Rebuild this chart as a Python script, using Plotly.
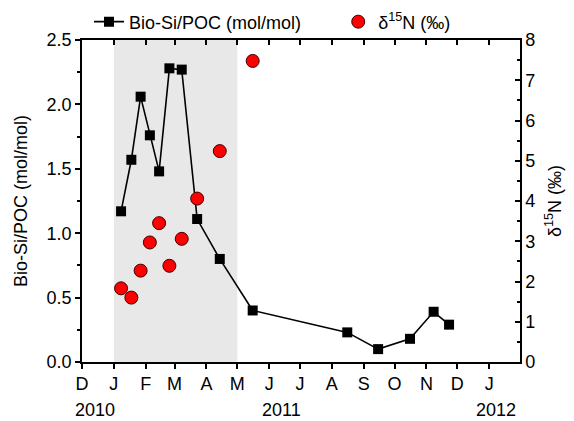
import plotly.graph_objects as go

# Data
sq_dates = ["2010-01-08", "2010-01-18", "2010-01-27", "2010-02-05", "2010-02-14",
            "2010-02-24", "2010-03-08", "2010-03-23", "2010-04-14", "2010-05-16",
            "2010-08-16", "2010-09-15", "2010-10-16", "2010-11-08", "2010-11-23"]
biosi_poc = [1.17, 1.57, 2.06, 1.76, 1.48, 2.28, 2.27, 1.11, 0.80, 0.40,
             0.23, 0.10, 0.18, 0.39, 0.29]

n_dates = ["2010-01-08", "2010-01-18", "2010-01-27", "2010-02-05", "2010-02-14",
           "2010-02-24", "2010-03-08", "2010-03-23", "2010-04-14", "2010-05-16"]
d15n = [1.83, 1.60, 2.27, 2.97, 3.45, 2.39, 3.06, 4.06, 5.24, 7.48]

month_ticks = ["2009-12-01", "2010-01-01", "2010-02-01", "2010-03-01", "2010-04-01",
               "2010-05-01", "2010-06-01", "2010-07-01", "2010-08-01", "2010-09-01",
               "2010-10-01", "2010-11-01", "2010-12-01", "2011-01-01"]
month_labels = ["D", "J", "F", "M", "A", "M", "J", "J", "A", "S", "O", "N", "D", "J"]
year_labels = ["2010", "2011", "2012"]
year_pos = ["2009-12-14", "2010-06-13", "2011-01-08"]
shade_range = ["2010-01-01", "2010-05-01"]
x_range = ["2009-12-01", "2011-01-31"]

FONT = "Arial, Liberation Sans, sans-serif"
FS = 18

fig = go.Figure()
fig.add_trace(go.Scatter(
    x=sq_dates, y=biosi_poc, mode="lines+markers", name="Bio-Si/POC (mol/mol)",
    line=dict(color="black", width=1.6),
    marker=dict(symbol="square", size=10, color="black"),
    xaxis="x", yaxis="y", legend="legend"))
fig.add_trace(go.Scatter(
    x=n_dates, y=d15n, mode="markers", name="δ<sup>15</sup>N (‰)",
    marker=dict(symbol="circle", size=13, color="#ff0000",
                line=dict(color="#400000", width=1)),
    xaxis="x", yaxis="y2", legend="legend2"))
# invisible trace to activate top axis
fig.add_trace(go.Scatter(x=[x_range[0]], y=[0], mode="markers", showlegend=False,
                         marker=dict(opacity=0), hoverinfo="skip",
                         xaxis="x2", yaxis="y"))

fig.add_shape(type="rect", xref="x", yref="paper", x0=shade_range[0], x1=shade_range[1],
              y0=0, y1=1, fillcolor="#e8e8e8", line=dict(width=0), layer="below")

for t, p in zip(year_labels, year_pos):
    fig.add_annotation(x=p, y=0, xref="x", yref="paper", yshift=-48, text=t,
                       showarrow=False, font=dict(family=FONT, size=FS, color="black"),
                       yanchor="middle")

axis_common = dict(showline=True, linecolor="black", linewidth=1.5, showgrid=False,
                   zeroline=False, tickcolor="black", tickwidth=1.5, automargin=False,
                   tickfont=dict(family=FONT, size=FS, color="black"))

legend_common = dict(orientation="h", yanchor="middle", y=1.056, xanchor="left",
                     bgcolor="rgba(0,0,0,0)",
                     font=dict(family=FONT, size=FS, color="black"))

# page body has an 8px default margin; figure size/margins compensate for it
fig.update_layout(
    width=566, height=413,
    margin=dict(l=74, r=54, t=32, b=59, autoexpand=False),
    paper_bgcolor="white", plot_bgcolor="white",
    font=dict(family=FONT, size=FS, color="black"),
    xaxis=dict(type="date", range=x_range, tickmode="array", tickvals=month_ticks,
               ticktext=month_labels, ticks="outside", ticklen=5, **axis_common),
    xaxis2=dict(type="date", range=x_range, overlaying="x", side="top", anchor="y",
                tickmode="array", tickvals=month_ticks, showticklabels=False,
                ticks="inside", ticklen=5, **axis_common),
    yaxis=dict(range=[0, 2.5], tickmode="linear", tick0=0, dtick=0.5, tickformat=".1f",
               ticks="outside", ticklen=5,
               minor=dict(ticks="outside", dtick=0.25, ticklen=3, tickcolor="black", tickwidth=1.5),
               title=dict(text="Bio-Si/POC (mol/mol)", standoff=14,
                          font=dict(family=FONT, size=FS, color="black")),
               **axis_common),
    yaxis2=dict(range=[0, 8], overlaying="y", side="right", anchor="x",
                tickmode="linear", tick0=0, dtick=1, ticks="inside", ticklen=5,
                minor=dict(ticks="inside", dtick=0.5, ticklen=3, tickcolor="black", tickwidth=1.5),
                title=dict(text="δ<sup>15</sup>N (‰)", standoff=14,
                           font=dict(family=FONT, size=FS, color="black")),
                **axis_common),
    legend=dict(x=0.016, **legend_common),
    legend2=dict(x=0.585, **legend_common),
    showlegend=True,
)

fig.write_html("out.html")
